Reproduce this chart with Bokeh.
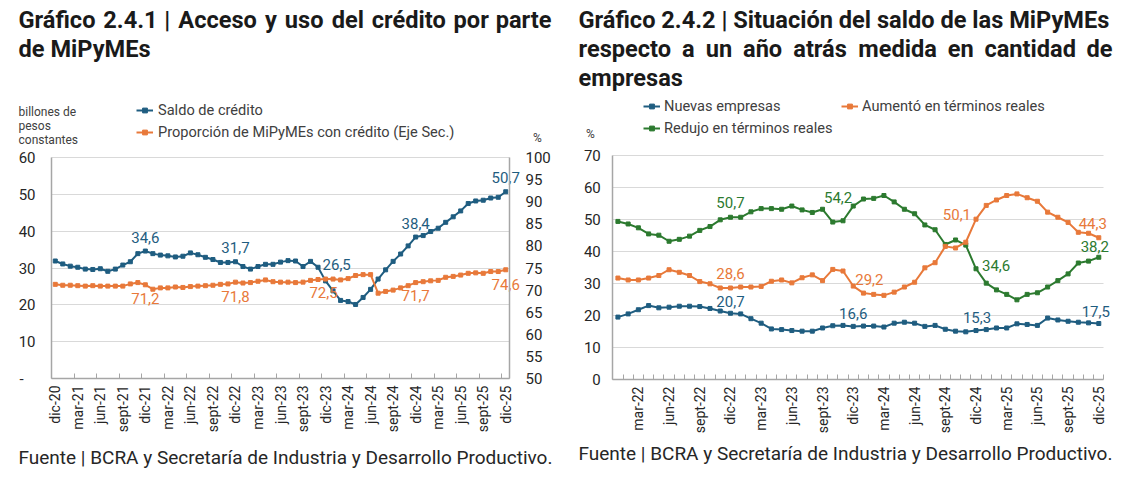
import math
from bokeh.plotting import figure
from bokeh.models import Range1d, LinearAxis, FixedTicker, Label, Legend, LegendItem
from bokeh.layouts import row
from bokeh.embed import file_html
from bokeh.resources import INLINE
from bokeh.core.properties import value

# ---------------- Gráfico 2.4.1 data (monthly, dic-20 .. dic-25) ----------------
ticks_241 = ["dic-20", "mar-21", "jun-21", "sept-21", "dic-21", "mar-22", "jun-22", "sept-22",
             "dic-22", "mar-23", "jun-23", "sept-23", "dic-23", "mar-24", "jun-24", "sept-24",
             "dic-24", "mar-25", "jun-25", "sept-25", "dic-25"]
saldo_credito = [31.9, 31.1, 30.5, 30.2, 29.7, 29.6, 29.8, 29.1, 29.7, 30.8,
                 31.7, 33.9, 34.6, 33.9, 33.5, 33.3, 33.0, 33.2, 34.1, 33.6,
                 32.9, 32.3, 31.5, 31.5, 31.7, 30.4, 29.7, 30.4, 31.0, 31.0,
                 31.6, 32.0, 31.9, 30.4, 31.8, 30.2, 26.5, 23.8, 21.2, 20.9,
                 20.1, 22.0, 24.2, 27.0, 29.5, 31.8, 33.8, 36.0, 38.4, 38.8,
                 39.9, 40.8, 42.4, 43.9, 45.5, 47.5, 48.2, 48.4, 49.0, 49.2,
                 50.7]
proporcion_con_credito = [71.3, 71.1, 71.1, 71.0, 70.9, 71.0, 70.9, 70.9, 70.9, 70.9,
                          71.4, 71.7, 71.2, 70.2, 70.5, 70.5, 70.7, 70.6, 70.8, 70.9,
                          71.0, 71.1, 71.3, 71.4, 71.8, 71.6, 71.7, 72.0, 72.3, 71.9,
                          71.8, 71.8, 71.7, 71.8, 72.2, 72.4, 72.5, 72.5, 72.3, 72.6,
                          73.3, 73.5, 73.5, 69.3, 69.7, 70.0, 70.5, 71.0, 71.7, 71.9,
                          72.1, 72.2, 72.9, 73.1, 73.4, 73.8, 73.9, 73.8, 74.2, 74.2,
                          74.6]
etiquetas_241 = [12, 24, 36, 48, 60]

# ---------------- Gráfico 2.4.2 data (monthly, ene-22 .. dic-25) ----------------
ticks_242 = ["mar-22", "jun-22", "sept-22", "dic-22", "mar-23", "jun-23", "sept-23", "dic-23",
             "mar-24", "jun-24", "sept-24", "dic-24", "mar-25", "jun-25", "sept-25", "dic-25"]
nuevas_empresas = [19.5, 20.5, 21.8, 23.1, 22.4, 22.6, 22.9, 22.9, 22.8, 22.2,
                   21.4, 20.7, 20.5, 19.0, 17.6, 15.8, 15.6, 15.3, 15.1, 15.1,
                   16.1, 16.8, 16.9, 16.6, 16.7, 16.7, 16.4, 17.6, 17.9, 17.6,
                   16.6, 16.9, 15.7, 15.1, 14.9, 15.3, 15.6, 16.1, 16.1, 17.4,
                   17.2, 16.9, 19.2, 18.6, 18.2, 17.9, 17.7, 17.5]
aumento_reales = [31.7, 31.1, 31.1, 31.7, 32.5, 34.3, 33.5, 32.5, 30.6, 29.9,
                  28.6, 28.6, 28.9, 28.9, 29.1, 30.7, 31.1, 30.2, 31.8, 32.7,
                  30.9, 34.4, 33.9, 29.2, 27.0, 26.6, 26.3, 27.3, 28.9, 30.4,
                  34.9, 36.5, 41.6, 41.1, 42.9, 50.1, 54.4, 56.1, 57.5, 58.0,
                  56.8, 55.7, 52.3, 50.7, 49.1, 46.0, 45.7, 44.3]
redujo_reales = [49.4, 48.6, 47.4, 45.5, 45.1, 43.2, 43.8, 44.8, 46.6, 47.8,
                 49.9, 50.7, 50.7, 52.4, 53.4, 53.4, 53.2, 54.2, 53.0, 52.2,
                 53.2, 49.2, 49.6, 54.2, 56.4, 56.6, 57.5, 55.5, 53.2, 51.8,
                 48.3, 46.8, 42.2, 43.6, 42.0, 34.6, 30.1, 28.0, 26.6, 24.9,
                 26.6, 27.1, 28.9, 30.9, 33.0, 36.4, 37.0, 38.2]
etiquetas_242 = [11, 23, 35, 47]

# ---------------- styles ----------------
BLUE = "#1f5d80"
ORANGE = "#e8793a"
GREEN = "#2c7a2f"
AXIS = "#a6a6a6"
GRID = "#d9d9d9"
TXT = "#262626"
TITLE = "#1a1a1a"
FONT = "Roboto"
H = 479
TSIZE = 23.6
LBL = "15px"
LEGSIZE = "14.6px"

# approximate Roboto Bold advance widths (em) used only to justify title lines
EM = {"a": .541, "c": .523, "d": .563, "e": .531, "f": .353, "i": .247, "l": .247, "m": .873,
      "n": .555, "ñ": .555, "o": .562, "p": .561, "r": .353, "s": .519, "t": .33, "u": .553,
      "y": .48, "á": .541, "é": .531, "ó": .562, "A": .663, "G": .657, "|": .24, ".": .27}


def word_width(w, size):
    return sum(EM.get(ch, .562) for ch in w) * size


def span_range(v0, px0, v1, px1, size):
    """Range whose value v0 sits at pixel px0 and v1 at px1 of a canvas of given size."""
    s = (px1 - px0) / (v1 - v0)
    return Range1d(v0 - px0 / s, v0 + (size - px0) / s)


def fmt(v):
    return f"{v:.1f}".replace(".", ",")


def page_label(p, gx, x, y, text, size, color=TXT, bold=False, align="left"):
    p.add_layout(Label(x=x - gx, y=H - y, x_units="screen", y_units="screen", text=text,
                       text_font=FONT, text_font_size=f"{size}px",
                       text_font_style="bold" if bold else "normal", text_color=color,
                       text_align=align, text_baseline="middle"))


def justified(p, gx, text, x0, x1, y, size):
    words = text.split(" ")
    widths = [word_width(w, size) for w in words]
    gap = (x1 - x0 - sum(widths)) / (len(words) - 1)
    x = x0
    for k, (w, ww) in enumerate(zip(words, widths)):
        if k == len(words) - 1:
            page_label(p, gx, x1, y, w, size, TITLE, True, "right")
        else:
            page_label(p, gx, x, y, w, size, TITLE, True)
        x += ww + gap


def style_axis(ax, size="15px"):
    ax.axis_line_color = AXIS
    ax.axis_line_width = 1.5
    ax.major_tick_in = 0
    ax.major_tick_out = 0
    ax.major_tick_line_color = None
    ax.minor_tick_line_color = None
    ax.major_label_text_font = FONT
    ax.major_label_text_font_size = size
    ax.major_label_text_color = TXT


def grid_axis(p, ticks, loc, length, rng="default"):
    ax = LinearAxis(ticker=FixedTicker(ticks=ticks), fixed_location=loc, y_range_name=rng,
                    major_label_overrides={t: "" for t in ticks})
    ax.axis_line_color = None
    ax.minor_tick_line_color = None
    ax.major_tick_line_color = GRID
    ax.major_tick_line_width = 1
    ax.major_tick_in = length
    ax.major_tick_out = 0
    ax.level = "underlay"
    p.add_layout(ax, "left")


def data_label(p, x, y, text, color, dx, dy, align, rng="default"):
    p.text(x=[x], y=[y], text=[text], x_offset=dx, y_offset=dy, text_align=align,
           text_baseline="middle", text_font=value(FONT), text_font_size=LBL,
           text_color=color, y_range_name=rng)


def base_fig(w, xr, yr):
    p = figure(width=w, height=H, x_range=xr, y_range=yr,
               output_backend="svg", toolbar_location=None, x_axis_type=None, y_axis_type=None,
               min_border_left=0, min_border_right=0, min_border_top=0, min_border_bottom=0)
    p.outline_line_color = None
    p.background_fill_color = "white"
    p.border_fill_color = "white"
    p.xgrid.visible = False
    p.ygrid.visible = False
    return p


# =============== Figure 1 ===============
W1 = 565
p1 = base_fig(W1, span_range(-0.5, 51, 60.5, 509, W1), span_range(0, H - 378, 60, H - 157, H))
p1.extra_y_ranges = {"sec": span_range(50, H - 378, 100, H - 157, H)}

grid_axis(p1, [10, 20, 30, 40, 50, 60], -0.5, 458)

pos1 = list(range(0, 61, 3))
xax1 = LinearAxis(ticker=FixedTicker(ticks=pos1, minor_ticks=[p - 0.5 for p in pos1] + [60.5]),
                  major_label_overrides={k: t for k, t in zip(pos1, ticks_241)},
                  fixed_location=0, bounds=(-0.5, 60.5))
style_axis(xax1, "14px")
xax1.minor_tick_line_color = AXIS
xax1.minor_tick_in = 5
xax1.minor_tick_out = 0
xax1.major_label_orientation = math.pi / 2
xax1.major_label_standoff = 7
p1.add_layout(xax1, "below")

yax1 = LinearAxis(ticker=FixedTicker(ticks=[0, 10, 20, 30, 40, 50, 60]),
                  major_label_overrides={0: ""}, fixed_location=-0.5, bounds=(0, 60))
style_axis(yax1)
yax1.major_label_standoff = 16
p1.add_layout(yax1, "left")

yax1r = LinearAxis(y_range_name="sec", ticker=FixedTicker(ticks=[50, 55, 60, 65, 70, 75, 80, 85, 90, 95, 100]),
                   fixed_location=60.5, bounds=(50, 100))
style_axis(yax1r)
yax1r.major_label_standoff = 16
p1.add_layout(yax1r, "right")

x1 = list(range(len(saldo_credito)))
l_s = p1.line(x1, saldo_credito, line_color=BLUE, line_width=2)
m_s = p1.scatter(x1, saldo_credito, marker="square", size=4, color=BLUE)
l_p = p1.line(x1, proporcion_con_credito, line_color=ORANGE, line_width=2, y_range_name="sec")
m_p = p1.scatter(x1, proporcion_con_credito, marker="square", size=4, color=ORANGE, y_range_name="sec")

sal_off = {12: (0, -14, "center"), 24: (0, -14, "center"), 36: (-3, -16, "left"),
           48: (0, -14, "center"), 60: (0, -14, "center")}
pro_off = {12: (0, 14, "center"), 24: (0, 14, "center"), 36: (-2, 13, "center"),
           48: (0, 13, "center"), 60: (0, 15, "center")}
for i in etiquetas_241:
    dx, dy, al = sal_off[i]
    data_label(p1, i, saldo_credito[i], fmt(saldo_credito[i]), BLUE, dx, dy, al)
    dx, dy, al = pro_off[i]
    data_label(p1, i, proporcion_con_credito[i], fmt(proporcion_con_credito[i]), ORANGE, dx, dy, al, "sec")

leg_kw = dict(orientation="vertical", padding=0, spacing=2, margin=0,
              glyph_width=17, glyph_height=12, label_height=20,
              border_line_color=None, background_fill_alpha=0,
              label_text_font=FONT, label_text_font_size=LEGSIZE, label_text_color="#404040")
leg1 = Legend(items=[LegendItem(label="Saldo de crédito", renderers=[l_s, m_s]),
                     LegendItem(label="Proporción de MiPyMEs con crédito (Eje Sec.)", renderers=[l_p, m_p])],
              location=(136, H - 142), label_standoff=5, **leg_kw)
p1.add_layout(leg1, "center")

justified(p1, 0, "Gráfico 2.4.1 | Acceso y uso del crédito por parte", 18, 551, 19, TSIZE)
page_label(p1, 0, 18, 48, "de MiPyMEs", TSIZE, TITLE, True)
page_label(p1, 0, 18, 111, "billones de", 12, "#404040")
page_label(p1, 0, 18, 125, "pesos", 12, "#404040")
page_label(p1, 0, 18, 139, "constantes", 12, "#404040")
page_label(p1, 0, 537, 137, "%", 12, "#404040", align="center")
page_label(p1, 0, 19, 378, "-", 15, TXT)
page_label(p1, 0, 18, 457, "Fuente | BCRA y Secretaría de Industria y Desarrollo Productivo.", 19, TXT)

# =============== Figure 2 ===============
W2 = 562
G = 565
p2 = base_fig(W2, span_range(-0.5, 612.3 - G, 47.5, 1103.4 - G, W2), span_range(0, H - 379, 70, H - 155, H))

grid_axis(p2, [10, 20, 30, 40, 50, 60, 70], -0.5, 491)

pos2 = list(range(2, 48, 3))
xax2 = LinearAxis(ticker=FixedTicker(ticks=pos2, minor_ticks=[k - 0.5 for k in range(49)]),
                  major_label_overrides={k: t for k, t in zip(pos2, ticks_242)},
                  fixed_location=0, bounds=(-0.5, 47.5))
style_axis(xax2, "14px")
xax2.minor_tick_line_color = AXIS
xax2.minor_tick_in = 5
xax2.minor_tick_out = 0
xax2.major_label_orientation = math.pi / 2
xax2.major_label_standoff = 7
p2.add_layout(xax2, "below")

yax2 = LinearAxis(ticker=FixedTicker(ticks=[0, 10, 20, 30, 40, 50, 60, 70]),
                  fixed_location=-0.5, bounds=(0, 70))
style_axis(yax2)
yax2.major_label_standoff = 12
p2.add_layout(yax2, "left")

x2 = list(range(len(nuevas_empresas)))
l_n = p2.line(x2, nuevas_empresas, line_color=BLUE, line_width=2)
m_n = p2.scatter(x2, nuevas_empresas, marker="square", size=4, color=BLUE)
l_r = p2.line(x2, redujo_reales, line_color=GREEN, line_width=2)
m_r = p2.scatter(x2, redujo_reales, marker="square", size=4, color=GREEN)
l_a = p2.line(x2, aumento_reales, line_color=ORANGE, line_width=2)
m_a = p2.scatter(x2, aumento_reales, marker="square", size=4, color=ORANGE)

red_off = {11: (0, -15, "center"), 23: (-1, -9, "right"), 35: (6, -3, "left"), 47: (-4, -11, "center")}
aum_off = {11: (0, -14, "center"), 23: (2, -7, "left"), 35: (-5, -5, "right"), 47: (-6, -14, "center")}
nue_off = {11: (0, -12, "center"), 23: (0, -13, "center"), 35: (1, -13, "center"), 47: (-3, -12, "center")}
for i in etiquetas_242:
    dx, dy, al = red_off[i]
    data_label(p2, i, redujo_reales[i], fmt(redujo_reales[i]), GREEN, dx, dy, al)
    dx, dy, al = aum_off[i]
    data_label(p2, i, aumento_reales[i], fmt(aumento_reales[i]), ORANGE, dx, dy, al)
    dx, dy, al = nue_off[i]
    data_label(p2, i, nuevas_empresas[i], fmt(nuevas_empresas[i]), BLUE, dx, dy, al)

leg2a = Legend(items=[LegendItem(label="Nuevas empresas", renderers=[l_n, m_n]),
                      LegendItem(label="Redujo en términos reales", renderers=[l_r, m_r])],
               location=(643 - G, H - 138), label_standoff=4, **leg_kw)
leg2b = Legend(items=[LegendItem(label="Aumentó en términos reales", renderers=[l_a, m_a])],
               location=(841 - G, H - 116), label_standoff=4, **leg_kw)
p2.add_layout(leg2a, "center")
p2.add_layout(leg2b, "center")

page_label(p2, G, 578, 19, "Gráfico 2.4.2 | Situación del saldo de las MiPyMEs", TSIZE, TITLE, True)
justified(p2, G, "respecto a un año atrás medida en cantidad de", 578, 1112, 48, TSIZE)
page_label(p2, G, 578, 77, "empresas", TSIZE, TITLE, True)
page_label(p2, G, 590, 133, "%", 12, "#404040", align="center")
page_label(p2, G, 578, 453, "Fuente | BCRA y Secretaría de Industria y Desarrollo Productivo.", 19, TXT)

layout = row(p1, p2, spacing=0)
open("out.html", "w").write(file_html(layout, INLINE))
